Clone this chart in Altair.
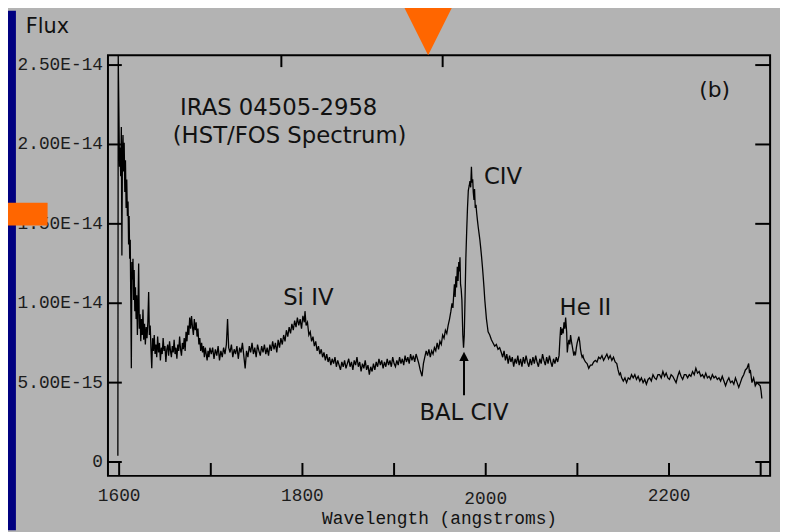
import altair as alt
import pandas as pd

# ---------------- spectrum (wavelength in Angstrom, flux in 1e-14 units) ----------------
seg_a = [(1598.6, 0.04), (1599.0, 2.56), (1600.4, 1.86), (1601.0, 1.98), (1601.7, 1.80), (1602.4, 2.11),
         (1603.0, 1.30), (1603.6, 1.95), (1604.2, 2.06), (1604.9, 1.83), (1605.5, 2.01), (1606.2, 1.70),
         (1606.9, 1.90), (1607.6, 1.60), (1608.3, 1.78), (1609.0, 1.55), (1609.7, 1.64), (1610.3, 1.37),
         (1610.9, 1.55), (1611.5, 1.28), (1612.1, 1.40), (1612.7, 1.02), (1613.3, 0.59), (1613.9, 1.26),
         (1614.5, 1.15), (1615.1, 1.28), (1615.7, 1.02), (1616.4, 1.21), (1617.1, 0.95), (1617.8, 1.10),
         (1618.5, 0.90), (1619.2, 1.05), (1619.9, 0.80), (1620.6, 0.99), (1621.3, 1.25), (1622.0, 0.84),
         (1622.8, 0.93), (1623.6, 0.76), (1624.4, 0.90), (1625.2, 0.80), (1626.0, 0.96), (1626.8, 0.77),
         (1627.7, 0.87), (1628.6, 0.74), (1629.5, 0.85), (1630.4, 0.78), (1631.3, 0.88), (1632.2, 1.07),
         (1633.0, 0.80), (1633.9, 0.86), (1634.8, 0.70), (1635.6, 0.59), (1636.5, 0.78), (1637.4, 0.70),
         (1638.3, 0.80), (1639.2, 0.68)]
seg_b = [(1640.1, 0.74), (1641.0, 0.66), (1642.0, 0.79), (1643.0, 0.69), (1644.0, 0.75), (1645.0, 0.64),
         (1646.0, 0.72), (1647.0, 0.68), (1648.0, 0.78), (1649.0, 0.70), (1650.0, 0.73), (1651.0, 0.63),
         (1652.0, 0.71), (1653.0, 0.74), (1654.0, 0.67), (1655.0, 0.76), (1656.0, 0.70), (1657.0, 0.66),
         (1658.0, 0.73), (1659.0, 0.69), (1660.0, 0.77), (1661.0, 0.68), (1662.0, 0.72), (1663.0, 0.65),
         (1664.0, 0.74), (1665.0, 0.70), (1666.0, 0.79), (1667.0, 0.71), (1668.0, 0.67), (1669.0, 0.75),
         (1670.0, 0.71), (1671.0, 0.78), (1672.0, 0.70), (1673.0, 0.82), (1674.0, 0.76), (1675.0, 0.86),
         (1676.0, 0.80), (1677.0, 0.91), (1678.0, 0.84), (1679.0, 0.92), (1680.0, 0.85), (1681.0, 0.80),
         (1682.0, 0.90), (1683.0, 0.83), (1684.0, 0.88), (1685.0, 0.79), (1686.0, 0.84), (1687.0, 0.74),
         (1688.0, 0.78), (1689.0, 0.70), (1690.0, 0.75), (1691.0, 0.69), (1692.0, 0.73), (1693.0, 0.66),
         (1694.0, 0.72), (1695.0, 0.68), (1696.0, 0.64), (1697.0, 0.70), (1698.0, 0.66), (1699.0, 0.72)]
seg_c = [(1700.5, 0.68), (1702.0, 0.72), (1703.5, 0.65), (1705.0, 0.71), (1706.5, 0.67), (1708.0, 0.73),
         (1709.5, 0.64), (1711.0, 0.70), (1712.5, 0.66), (1714.0, 0.72), (1715.5, 0.68), (1717.0, 0.74),
         (1718.3, 0.90), (1719.5, 0.72), (1721.0, 0.69), (1722.5, 0.74), (1724.0, 0.66), (1725.5, 0.71),
         (1727.0, 0.68), (1728.5, 0.73), (1730.0, 0.65), (1731.5, 0.72), (1733.0, 0.69), (1734.5, 0.75),
         (1736.0, 0.67), (1737.5, 0.59), (1739.0, 0.70), (1740.5, 0.66), (1742.0, 0.73), (1743.5, 0.69),
         (1745.0, 0.75), (1746.5, 0.68), (1748.0, 0.72), (1749.5, 0.66), (1751.0, 0.74), (1752.5, 0.70),
         (1754.0, 0.67), (1755.5, 0.73), (1757.0, 0.69), (1758.5, 0.74), (1760.0, 0.68)]
seg_d = [(1761.5, 0.72), (1763.0, 0.67), (1764.5, 0.74), (1766.0, 0.70), (1767.5, 0.76), (1769.0, 0.71),
         (1770.5, 0.75), (1772.0, 0.69), (1773.5, 0.77), (1775.0, 0.72), (1776.5, 0.78), (1778.0, 0.74),
         (1779.5, 0.80), (1781.0, 0.76), (1782.5, 0.83), (1784.0, 0.79), (1785.5, 0.85), (1787.0, 0.81),
         (1788.5, 0.87), (1790.0, 0.83), (1791.5, 0.89), (1793.0, 0.85), (1794.5, 0.91), (1796.0, 0.86),
         (1797.5, 0.90), (1799.0, 0.84), (1800.5, 0.92), (1802.0, 0.88), (1802.8, 0.95), (1804.0, 0.86),
         (1805.5, 0.88), (1807.0, 0.80), (1808.5, 0.82), (1810.0, 0.76), (1811.5, 0.79), (1813.0, 0.73),
         (1814.5, 0.76), (1816.0, 0.70), (1817.5, 0.73), (1819.0, 0.68), (1820.5, 0.71), (1822.0, 0.66),
         (1823.5, 0.69), (1825.0, 0.64), (1826.5, 0.68), (1828.0, 0.63), (1829.5, 0.66), (1831.0, 0.61),
         (1832.5, 0.65), (1834.0, 0.62), (1835.5, 0.66), (1837.0, 0.60), (1838.5, 0.64), (1840.0, 0.61),
         (1841.5, 0.58), (1843.0, 0.63), (1844.5, 0.60), (1846.0, 0.64), (1847.5, 0.59), (1849.0, 0.62)]
seg_e = [(1850.5, 0.65), (1852.0, 0.60), (1853.5, 0.63), (1855.0, 0.58), (1856.5, 0.64), (1858.0, 0.61),
         (1859.5, 0.66), (1861.0, 0.60), (1862.5, 0.63), (1864.0, 0.57), (1865.5, 0.62), (1867.0, 0.59),
         (1868.5, 0.64), (1870.0, 0.58), (1871.5, 0.61), (1873.0, 0.55), (1874.5, 0.60), (1876.0, 0.57),
         (1877.5, 0.62), (1879.0, 0.58), (1880.5, 0.63), (1882.0, 0.60), (1883.5, 0.65), (1885.0, 0.61),
         (1886.5, 0.64), (1888.0, 0.59), (1889.5, 0.63), (1891.0, 0.60), (1892.5, 0.65), (1894.0, 0.61),
         (1895.5, 0.64), (1897.0, 0.60), (1898.5, 0.66), (1900.0, 0.62), (1901.5, 0.60), (1903.0, 0.64),
         (1904.5, 0.61), (1906.0, 0.66), (1907.5, 0.62), (1909.0, 0.65), (1910.5, 0.61), (1912.0, 0.67),
         (1913.5, 0.63), (1915.0, 0.66), (1916.5, 0.62), (1918.0, 0.68), (1919.5, 0.64), (1921.0, 0.67),
         (1922.5, 0.63), (1924.0, 0.68), (1925.5, 0.65), (1927.0, 0.62), (1928.5, 0.58), (1930.5, 0.54),
         (1932.0, 0.62), (1933.5, 0.66), (1935.0, 0.70)]
seg_f = [(1936.5, 0.67), (1938.0, 0.71), (1939.5, 0.66), (1941.0, 0.70), (1942.5, 0.68), (1944.0, 0.72),
         (1945.5, 0.70), (1947.0, 0.75), (1948.5, 0.71), (1950.0, 0.76), (1951.5, 0.74), (1953.0, 0.80),
         (1954.5, 0.78), (1956.0, 0.83), (1957.5, 0.81), (1959.0, 0.86), (1960.5, 0.90), (1962.0, 0.95),
         (1963.2, 1.00), (1964.2, 0.97), (1965.0, 1.05), (1965.8, 1.12), (1966.6, 1.04), (1967.4, 1.17),
         (1968.2, 1.10), (1969.0, 1.23), (1969.8, 1.14), (1970.6, 1.26), (1971.3, 1.20), (1971.9, 1.29),
         (1972.5, 1.12), (1973.2, 1.09), (1974.0, 1.02), (1975.0, 0.80), (1975.8, 0.72), (1976.6, 0.80),
         (1977.5, 1.05), (1978.3, 1.28), (1979.2, 1.45), (1980.1, 1.60), (1981.0, 1.71), (1982.0, 1.74),
         (1982.8, 1.77), (1983.6, 1.73), (1984.4, 1.86), (1985.0, 1.76), (1985.8, 1.78), (1986.4, 1.70),
         (1987.2, 1.65), (1987.8, 1.72), (1988.6, 1.60), (1989.4, 1.62), (1990.1, 1.57), (1991.0, 1.52),
         (1991.8, 1.48), (1992.7, 1.44), (1993.6, 1.40), (1994.5, 1.35), (1995.5, 1.29), (1996.4, 1.23),
         (1997.2, 1.17), (1998.1, 1.10), (1999.0, 1.02), (1999.9, 0.96), (2000.8, 0.90), (2001.7, 0.86),
         (2002.6, 0.82), (2004.4, 0.80), (2006.2, 0.77), (2008.0, 0.75), (2009.8, 0.73), (2011.6, 0.74),
         (2013.4, 0.71), (2015.2, 0.72), (2017.0, 0.69)]
seg_g = [(2018.5, 0.66), (2020.0, 0.70), (2021.5, 0.64), (2023.0, 0.68), (2024.5, 0.62), (2026.0, 0.67),
         (2027.5, 0.63), (2029.0, 0.66), (2030.5, 0.60), (2032.0, 0.65), (2033.5, 0.62), (2035.0, 0.67),
         (2036.5, 0.61), (2038.0, 0.65), (2039.5, 0.60), (2041.0, 0.66), (2042.5, 0.62), (2044.0, 0.67),
         (2045.5, 0.63), (2047.0, 0.60), (2048.5, 0.65), (2050.0, 0.61), (2051.5, 0.66), (2053.0, 0.62),
         (2054.5, 0.67), (2056.0, 0.63), (2057.5, 0.60), (2059.0, 0.65), (2060.5, 0.62), (2062.0, 0.68),
         (2063.5, 0.64), (2065.0, 0.61), (2066.5, 0.66), (2068.0, 0.62), (2069.5, 0.67), (2071.0, 0.63),
         (2072.5, 0.60), (2074.0, 0.65), (2075.5, 0.62), (2077.0, 0.66), (2078.5, 0.63), (2080.0, 0.67)]
seg_h = [(2081.0, 0.78), (2081.8, 0.85), (2082.7, 0.80), (2083.6, 0.84), (2084.5, 0.81), (2085.4, 0.88),
         (2086.3, 0.84), (2087.2, 0.91), (2088.3, 0.82), (2089.0, 0.69), (2089.9, 0.74), (2090.8, 0.77),
         (2091.7, 0.74), (2092.6, 0.80), (2093.5, 0.76), (2094.4, 0.73), (2095.3, 0.70), (2096.2, 0.67),
         (2097.1, 0.69), (2098.0, 0.68), (2098.9, 0.72), (2099.8, 0.75), (2100.7, 0.77), (2101.6, 0.79),
         (2102.5, 0.76), (2103.4, 0.71), (2104.3, 0.68), (2105.2, 0.66), (2106.1, 0.67), (2107.0, 0.65),
         (2108.8, 0.63), (2110.6, 0.62), (2112.4, 0.59), (2114.2, 0.61), (2116.0, 0.61), (2117.8, 0.63),
         (2119.6, 0.64), (2121.4, 0.63), (2123.2, 0.66), (2125.0, 0.65), (2126.8, 0.67), (2128.6, 0.64),
         (2130.4, 0.66), (2132.2, 0.68), (2134.0, 0.65), (2135.8, 0.67), (2137.6, 0.64), (2139.4, 0.66),
         (2141.2, 0.63), (2143.0, 0.62), (2144.4, 0.58), (2145.8, 0.55), (2147.0, 0.56), (2148.3, 0.53)]
seg_i = [(2150.1, 0.51), (2151.9, 0.53), (2153.7, 0.50), (2155.5, 0.53), (2157.3, 0.52), (2159.1, 0.55),
         (2160.9, 0.53), (2162.7, 0.55), (2164.5, 0.52), (2166.3, 0.54), (2168.1, 0.51), (2169.9, 0.53),
         (2171.7, 0.50), (2173.5, 0.52), (2175.3, 0.49), (2177.1, 0.52), (2178.9, 0.53), (2180.7, 0.51),
         (2182.5, 0.55), (2184.3, 0.53), (2186.1, 0.52), (2187.9, 0.55), (2189.7, 0.55), (2191.5, 0.53),
         (2193.3, 0.57), (2195.1, 0.54), (2196.9, 0.56), (2198.7, 0.53), (2200.5, 0.52), (2202.3, 0.55),
         (2204.1, 0.54), (2205.9, 0.52), (2207.7, 0.50), (2209.5, 0.54), (2211.3, 0.57), (2213.1, 0.54),
         (2214.9, 0.52), (2216.7, 0.55), (2218.5, 0.55), (2220.3, 0.53), (2222.1, 0.55), (2223.9, 0.54),
         (2225.7, 0.57), (2227.5, 0.55), (2229.3, 0.59), (2231.1, 0.56), (2232.9, 0.57), (2234.7, 0.54),
         (2236.5, 0.55), (2238.3, 0.53), (2240.1, 0.56), (2241.9, 0.53), (2243.7, 0.54), (2245.5, 0.52),
         (2247.3, 0.55), (2249.1, 0.53), (2250.9, 0.54), (2252.7, 0.52), (2254.5, 0.53), (2256.3, 0.51),
         (2258.1, 0.54), (2259.9, 0.51), (2261.7, 0.48), (2263.5, 0.51), (2265.3, 0.53), (2267.1, 0.50),
         (2268.9, 0.51), (2270.7, 0.49), (2272.5, 0.53), (2274.3, 0.50), (2276.1, 0.47), (2277.9, 0.50),
         (2279.7, 0.53), (2281.5, 0.55), (2283.3, 0.58), (2285.1, 0.59), (2286.9, 0.62), (2287.8, 0.56),
         (2288.7, 0.58), (2290.5, 0.50), (2292.3, 0.53), (2294.1, 0.48), (2295.9, 0.50), (2297.7, 0.49),
         (2299.5, 0.48), (2300.4, 0.45), (2301.3, 0.40)]

spectrum = seg_a + seg_b + seg_c + seg_d + seg_e + seg_f + seg_g + seg_h + seg_i
spec_df = pd.DataFrame(spectrum, columns=["wl", "flux"])

# ---------------- axes / ticks ----------------
x_tick_values = [1600, 1700, 1800, 1900, 2000, 2100, 2200, 2300]
x_label_values = [1600, 1800, 2200]
x_label_low = [2000]          # this label sits a little lower in the original
top_tick_values = [1777, 1953]
y_tick_values = [0, 0.5, 1.0, 1.5, 2.0, 2.5]
y_tick_labels = ["0", "5.00E-15", "1.00E-14", "1.50E-14", "2.00E-14", "2.50E-14"]

# line identifications
line_labels = ["Si IV", "CIV", "He II", "BAL CIV"]
line_label_wl = [1806.4, 2018.8, 2108.8, 1976.3]
line_label_flux = [0.991, 1.75, 0.929, 0.264]

# BAL arrow
arrow_wl = [1976.3]
arrow_from = [0.42]
arrow_to = [0.64]
arrow_head = [0.665]

X_DOMAIN = [1587.8, 2310.3]
Y_DOMAIN = [-0.0873, 2.562]
W, H = 669, 425

xscale = alt.Scale(domain=X_DOMAIN, nice=False, zero=False)
yscale = alt.Scale(domain=Y_DOMAIN, nice=False, zero=False)

MONO = "Liberation Mono"
SANS = "DejaVu Sans"
INK = "#111111"
LABEL_INK = "#1c1c1c"

X = lambda f="wl": alt.X(f"{f}:Q", scale=xscale, axis=None)
Y = lambda f="flux": alt.Y(f"{f}:Q", scale=yscale, axis=None)

line = alt.Chart(spec_df).mark_line(color="#000000", strokeWidth=1.3).encode(x=X(), y=Y())

bottom_ticks = alt.Chart(pd.DataFrame({"wl": x_tick_values})).mark_rule(color="#000", strokeWidth=2).encode(
    x=X(), y=alt.value(H - 13), y2=alt.value(H))
top_ticks = alt.Chart(pd.DataFrame({"wl": top_tick_values})).mark_rule(color="#000", strokeWidth=2).encode(
    x=X(), y=alt.value(0), y2=alt.value(12))
left_ticks = alt.Chart(pd.DataFrame({"flux": y_tick_values})).mark_rule(color="#000", strokeWidth=2).encode(
    y=Y(), x=alt.value(0), x2=alt.value(14))
right_ticks = alt.Chart(pd.DataFrame({"flux": y_tick_values})).mark_rule(color="#000", strokeWidth=2).encode(
    y=Y(), x=alt.value(W - 15), x2=alt.value(W))

x_labels = alt.Chart(pd.DataFrame({"wl": x_label_values})).mark_text(
    font=MONO, fontSize=18, color=LABEL_INK, align="center", baseline="alphabetic").encode(
    x=X(), y=alt.value(H + 25), text=alt.Text("wl:Q", format="d"))
x_labels_low = alt.Chart(pd.DataFrame({"wl": x_label_low})).mark_text(
    font=MONO, fontSize=18, color=LABEL_INK, align="center", baseline="alphabetic").encode(
    x=X(), y=alt.value(H + 28), text=alt.Text("wl:Q", format="d"))
y_labels = alt.Chart(pd.DataFrame({"flux": y_tick_values, "lab": y_tick_labels})).mark_text(
    font=MONO, fontSize=18, color=LABEL_INK, align="right", baseline="middle").encode(
    y=Y(), x=alt.value(-5), text="lab:N")

labels_df = pd.DataFrame({"wl": line_label_wl, "flux": line_label_flux, "t": line_labels})
line_text = alt.Chart(labels_df).mark_text(font=SANS, fontSize=23, color=INK, align="center",
                                           baseline="alphabetic").encode(x=X(), y=Y(), text="t:N")

arrow_df = pd.DataFrame({"wl": arrow_wl, "flux": arrow_from, "flux2": arrow_to, "head": arrow_head})
arrow_shaft = alt.Chart(arrow_df).mark_rule(color="#000", strokeWidth=2).encode(
    x=X(), y=Y(), y2="flux2:Q")
arrow_tip = alt.Chart(arrow_df).mark_point(shape="M0,-1L1,1L-1,1Z", filled=True, color="#000",
                                            opacity=1, size=90, strokeWidth=0).encode(x=X(), y=Y("head"))

one = pd.DataFrame({"k": [0]})


def label(text, x, y, size, font=SANS, align="center"):
    return alt.Chart(one).mark_text(text=text, font=font, fontSize=size, color=INK, align=align,
                                    baseline="alphabetic").encode(x=alt.value(x), y=alt.value(y))


flux_title = label("Flux", -83, -22, 21, align="left")
title1 = label("IRAS 04505-2958", 172.5, 60, 23)
title2 = label("(HST/FOS Spectrum)", 183.5, 88.5, 23)
panel = label("(b)", 613, 42, 22)
x_title = label("Wavelength (angstroms)", 335, 474, 18, font=MONO)

# decorations of the slide
navy_strip = alt.Chart(one).mark_rect(color="#000080").encode(
    x=alt.value(-101), x2=alt.value(-93), y=alt.value(-45), y2=alt.value(480))
orange_bar = alt.Chart(one).mark_rect(color="#ff6600").encode(
    x=alt.value(-101), x2=alt.value(-61), y=alt.value(149), y2=alt.value(172))
orange_tri = alt.Chart(one).mark_point(shape="M-1,-1L1,-1L0,1Z", filled=True, color="#ff6600",
                                       opacity=1, size=2809, strokeWidth=0).encode(
    x=alt.value(323.5), y=alt.value(-26.5))

chart = alt.layer(
    line, bottom_ticks, top_ticks, left_ticks, right_ticks, x_labels, x_labels_low, y_labels,
    line_text, arrow_shaft, arrow_tip,
    flux_title, title1, title2, panel, x_title, navy_strip, orange_bar, orange_tri,
).properties(
    width=W, height=H,
    autosize=alt.AutoSizeParams(type="none"),
    padding={"left": 101, "top": 45, "right": 10, "bottom": 54},
    background="#b3b3b3",
).configure_view(stroke="#000000", strokeWidth=2)

chart.save("out.html", embed_options={"renderer": "svg", "actions": False})
